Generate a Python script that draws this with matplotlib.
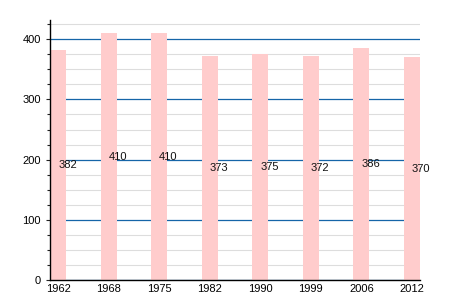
import matplotlib
matplotlib.use("Agg")
import matplotlib.pyplot as plt
from matplotlib.ticker import MultipleLocator

plt.rcParams['font.family'] = ['Liberation Sans', 'DejaVu Sans']

years = ["1962", "1968", "1975", "1982", "1990", "1999", "2006", "2012"]
values = [382, 410, 410, 373, 375, 372, 386, 370]

fig = plt.figure(figsize=(4.5, 3), dpi=100)
ax = fig.add_axes([50/450, 20/300, 370/450, 260/300])

x = list(range(len(years)))
w = 0.32
ax.bar(x, values, width=w, color="#ffcccc", zorder=3)
for xi, v in zip(x, values):
    ax.text(xi, v/2, str(v), ha="left", va="center", fontsize=8, color="#111111", zorder=4)

ax.set_xlim(-w/2, len(years) - 1 + w/2)
ax.set_ylim(0, 432)
ax.set_xticks(x)
ax.set_xticklabels(years, fontsize=8)
ax.yaxis.set_major_locator(MultipleLocator(100))
ax.yaxis.set_minor_locator(MultipleLocator(25))
ax.tick_params(axis="y", which="major", labelsize=8, length=3, width=0.8, color="#222222")
ax.tick_params(axis="y", which="minor", length=2, width=0.8, color="#222222")
ax.tick_params(axis="x", length=0, pad=3)
ax.grid(True, axis="y", which="minor", color="#dddddd", linewidth=0.8, zorder=1)
ax.grid(True, axis="y", which="major", color="#1565a8", linewidth=0.9, zorder=2)
ax.set_axisbelow(False)
for s in ["top", "right"]:
    ax.spines[s].set_visible(False)
ax.spines["left"].set_linewidth(1.0)
ax.spines["bottom"].set_linewidth(1.0)
ax.spines["left"].set_zorder(5)
ax.spines["bottom"].set_zorder(5)

fig.savefig("out.png", dpi=100)
